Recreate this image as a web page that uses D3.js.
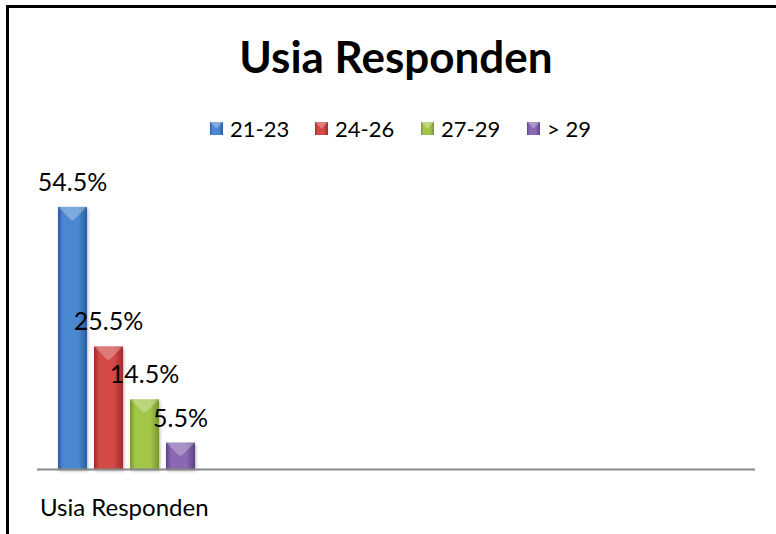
<!DOCTYPE html>
<html>
<head>
<meta charset="utf-8">
<title>Usia Responden</title>
<script src="https://d3js.org/d3.v7.min.js"></script>
<style>
  body { margin: 0; background: #fff; overflow: hidden; }
  svg { display: block; }
  text { font-family: Lato, "DejaVu Sans", sans-serif; fill: #000; }
</style>
</head>
<body>
<svg id="chart" width="776" height="534"></svg>
<script>
// data
var categories = ["21-23", "24-26", "27-29", "> 29"];
var values = [54.5, 25.5, 14.5, 5.5];
var valueLabels = ["54.5%", "25.5%", "14.5%", "5.5%"];
var seriesName = "Usia Responden";

// fill colours: edge, middle
var barColors = [
  ["#2a5d9c", "#4b88d2"],
  ["#9e2b29", "#d24845"],
  ["#76952e", "#a3c64a"],
  ["#5c4384", "#8a68b4"]
];

var svg = d3.select("#chart");
var defs = svg.append("defs");

barColors.forEach(function(c, i) {
  var g = defs.append("linearGradient")
    .attr("id", "grad" + i)
    .attr("x1", "0").attr("x2", "1").attr("y1", "0").attr("y2", "0");
  g.append("stop").attr("offset", "0%").attr("stop-color", c[0]);
  g.append("stop").attr("offset", "18%").attr("stop-color", c[1]);
  g.append("stop").attr("offset", "70%").attr("stop-color", c[1]);
  g.append("stop").attr("offset", "100%").attr("stop-color", c[0]);
});

// shadow filter
var f = defs.append("filter").attr("id", "shadow")
  .attr("x", "-20%").attr("y", "-10%").attr("width", "140%").attr("height", "130%");
f.append("feDropShadow").attr("dx", 1).attr("dy", 2).attr("stdDeviation", 1.5)
  .attr("flood-color", "#000").attr("flood-opacity", 0.3);

// outer frame (only left and top edges show)
svg.append("path")
  .attr("d", "M7.5,540V6.5H780")
  .attr("fill", "none")
  .attr("stroke", "#000")
  .attr("stroke-width", 3);

// title
svg.append("text")
  .attr("x", 396).attr("y", 73)
  .attr("text-anchor", "middle")
  .style("font-size", "44px")
  .style("font-weight", "bold")
  .text(seriesName);

var baseY = 469;

var x = d3.scaleBand()
  .domain(categories)
  .range([58, 195])
  .paddingInner(7 / 36)
  .paddingOuter(0);

var y = d3.scaleLinear()
  .domain([0, 60])
  .range([baseY, baseY - 288.6]);

// bars
var bars = svg.append("g").selectAll("g.bar")
  .data(categories)
  .enter().append("g")
  .attr("class", "bar");

bars.append("rect")
  .attr("x", function(d) { return x(d); })
  .attr("y", function(d, i) { return y(values[i]); })
  .attr("width", x.bandwidth())
  .attr("height", function(d, i) { return baseY - y(values[i]); })
  .attr("fill", function(d, i) { return "url(#grad" + i + ")"; })
  .attr("filter", "url(#shadow)");

// bevel highlight at top of each bar
bars.append("path")
  .attr("d", function(d, i) {
    var x0 = x(d), w = x.bandwidth(), t = y(values[i]);
    var h = Math.min(w * 0.45, (baseY - t) * 0.6);
    return "M" + x0 + "," + t + "L" + (x0 + w) + "," + t +
      "L" + (x0 + w - h) + "," + (t + h) + "L" + (x0 + h) + "," + (t + h) + "Z";
  })
  .attr("fill", "#fff")
  .attr("fill-opacity", 0.28);

// axis line
svg.append("line")
  .attr("x1", 37).attr("x2", 755)
  .attr("y1", baseY + 0.5).attr("y2", baseY + 0.5)
  .attr("stroke", "#888")
  .attr("stroke-width", 2);

// value labels
svg.append("g").selectAll("text")
  .data(categories)
  .enter().append("text")
  .attr("x", function(d) { return x(d) + x.bandwidth() / 2; })
  .attr("y", function(d, i) { return y(values[i]) - 16; })
  .attr("text-anchor", "middle")
  .style("font-size", "25px")
  .text(function(d, i) { return valueLabels[i]; });

// category label
svg.append("text")
  .attr("x", 40).attr("y", 516)
  .style("font-size", "24px")
  .text(seriesName);

// legend
var legendX = [210, 315, 421, 527];
var legend = svg.append("g").selectAll("g")
  .data(categories)
  .enter().append("g")
  .attr("transform", function(d, i) { return "translate(" + legendX[i] + ",122)"; });

legend.append("rect")
  .attr("width", 13).attr("height", 13)
  .attr("fill", function(d, i) { return "url(#grad" + i + ")"; });
legend.append("path")
  .attr("d", "M0,0L13,0L6.5,6.5Z")
  .attr("fill", "#fff").attr("fill-opacity", 0.3);

legend.append("text")
  .attr("x", 20).attr("y", 14.5)
  .style("font-size", "22px")
  .text(function(d) { return d; });
</script>
</body>
</html>
